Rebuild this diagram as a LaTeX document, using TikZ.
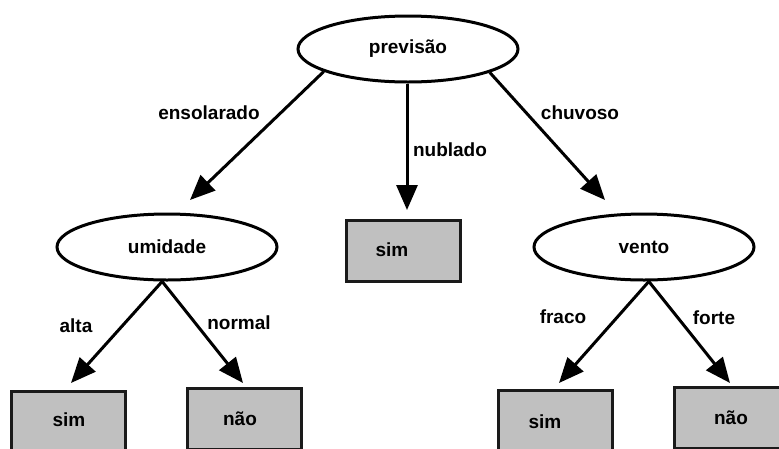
\documentclass[tikz,border=0pt]{standalone}
\usepackage{fontspec}
\setmainfont{Liberation Sans}
\usetikzlibrary{shapes.geometric,arrows.meta}
\definecolor{boxfill}{HTML}{C0C0C0}
\definecolor{boxline}{HTML}{1A1A1A}
\tikzset{
  lbl/.style={font=\bfseries\fontsize{19}{22}\selectfont, inner sep=0pt, text=black},
  ell/.style={ellipse, draw=black, line width=3pt, fill=white, minimum width=220pt, minimum height=66pt, inner sep=0pt, font=\bfseries\fontsize{19}{22}\selectfont},
  leaf/.style={rectangle, draw=boxline, fill=boxfill, line width=3pt, minimum width=114pt, minimum height=61pt, inner sep=0pt},
  arr/.style={line width=3pt, -{Triangle[length=25pt,width=21pt]}}
}
\begin{document}
\begin{tikzpicture}[x=1pt,y=-1pt]
\clip (0,0) rectangle (779,448);
\fill[white] (0,0) rectangle (779,448);
% decision nodes
\node[ell] (prev) at (408,49) {previsão};
\node[ell] (umid) at (167,247) {umidade};
\node[ell] (vento) at (644,247) {vento};
% leaves
\node[leaf] (mid) at (403,251) {};
\node[lbl] (midt) at (392,250) {sim};
\node[leaf] (s1) at (68.5,422) {};
\node[lbl] (s1t) at (69,420) {sim};
\node[leaf] (n1) at (244.5,419) {};
\node[lbl] (n1t) at (240,419) {não};
\node[leaf] (s2) at (555.5,420.5) {};
\node[lbl] (s2t) at (545,422) {sim};
\node[leaf] (n2) at (731.5,418) {};
\node[lbl] (n2t) at (731,418) {não};
% arrow tips
\coordinate (t1) at (190,200);
\coordinate (t2) at (407,210);
\coordinate (t3) at (605,200);
\coordinate (t4) at (71,383);
\coordinate (t5) at (243,383);
\coordinate (t6) at (559,383);
\coordinate (t7) at (730,383);
% connectors
\draw[arr] (prev.195) -- (t1);
\draw[arr] (prev.south) ++(-1,0) coordinate (ps) -- (t2);
\draw[arr] (prev.344) -- (t3);
\draw[arr] (umid.262) -- (t4);
\draw[arr] (umid.262) -- (t5);
\draw[arr] (vento.278) -- (t6);
\draw[arr] (vento.278) -- (t7);
% edge labels
\node[lbl] (l1) at (209,113) {ensolarado};
\node[lbl] (l2) at (450,150) {nublado};
\node[lbl] (l3) at (580,113) {chuvoso};
\node[lbl] (l4) at (76,326) {alta};
\node[lbl] (l5) at (239,323) {normal};
\node[lbl] (l6) at (563,317) {fraco};
\node[lbl] (l7) at (714,318) {forte};
\end{tikzpicture}
\end{document}
